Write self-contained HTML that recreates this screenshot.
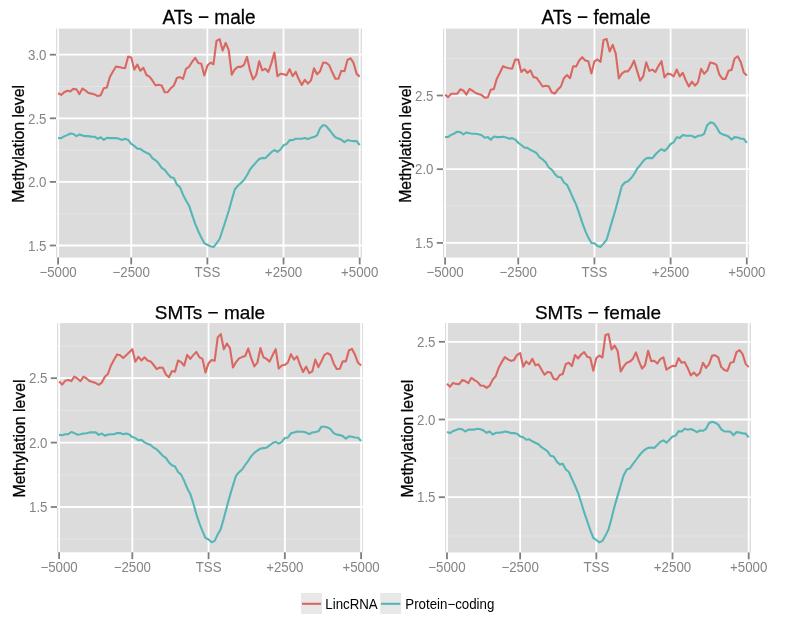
<!DOCTYPE html>
<html><head><meta charset="utf-8"><style>
html,body{margin:0;padding:0;background:#fff;}
body{width:790px;height:630px;overflow:hidden;}
svg{display:block;will-change:transform;}
text{font-family:"Liberation Sans",sans-serif;}
.ax{font-size:13.3px;fill:#848484;}
.ti{font-size:19px;fill:#000;stroke:#000;stroke-width:0.25px;}
.yl{font-size:16.2px;fill:#000;stroke:#000;stroke-width:0.3px;}
.lg{font-size:13.3px;fill:#000;}
</style></head><body>
<svg width="790" height="630" viewBox="0 0 790 630">
<rect width="790" height="630" fill="#fff"/>
<rect x="56" y="28.6" width="306" height="229" fill="#DCDCDC"/>
<line x1="56" x2="362" y1="86.5" y2="86.5" stroke="#E5E5E5" stroke-width="0.9"/>
<line x1="56" x2="362" y1="150.1" y2="150.1" stroke="#E5E5E5" stroke-width="0.9"/>
<line x1="56" x2="362" y1="213.7" y2="213.7" stroke="#E5E5E5" stroke-width="0.9"/>
<line x1="56" x2="362" y1="54.7" y2="54.7" stroke="#FFFFFF" stroke-width="1.8"/>
<line x1="56" x2="362" y1="118.3" y2="118.3" stroke="#FFFFFF" stroke-width="1.8"/>
<line x1="56" x2="362" y1="181.9" y2="181.9" stroke="#FFFFFF" stroke-width="1.8"/>
<line x1="56" x2="362" y1="245.5" y2="245.5" stroke="#FFFFFF" stroke-width="1.8"/>
<line x1="58.1" x2="58.1" y1="28.6" y2="257.6" stroke="#FFFFFF" stroke-width="1.8"/>
<line x1="131.22" x2="131.22" y1="28.6" y2="257.6" stroke="#FFFFFF" stroke-width="1.8"/>
<line x1="207.38" x2="207.38" y1="28.6" y2="257.6" stroke="#FFFFFF" stroke-width="1.8"/>
<line x1="283.54" x2="283.54" y1="28.6" y2="257.6" stroke="#FFFFFF" stroke-width="1.8"/>
<line x1="359.7" x2="359.7" y1="28.6" y2="257.6" stroke="#FFFFFF" stroke-width="1.8"/>
<svg x="56" y="28.6" width="306" height="229" viewBox="56 28.6 306 229" overflow="hidden">
<polyline points="58.1,93.3 61.15,94.9 64.19,92.3 67.24,90.8 70.29,91.4 73.33,88.9 76.38,89.2 79.43,94.1 82.47,88.5 85.52,90.6 88.56,93 91.61,93.6 94.66,94.4 97.7,96.1 100.75,95.2 103.8,88.2 106.84,87.5 109.89,76.9 112.94,71.5 115.98,66.5 119.03,67.1 122.08,67.8 125.12,68.1 128.17,56.6 131.22,57.5 134.26,69.6 137.31,64.5 140.35,70.7 143.4,67.8 146.45,75 149.49,76.7 152.54,80.7 155.59,85.5 158.63,84.7 161.68,85.5 164.73,92.2 167.77,92.2 170.82,88.2 173.87,85.5 176.91,78 179.96,77.1 183.01,78.8 186.05,68.8 189.1,66.7 192.14,61.8 195.19,57.8 198.24,63.1 201.28,63.8 204.33,75.5 207.38,65.8 210.42,62.6 213.47,64.2 216.52,40.8 219.56,39.1 222.61,50.5 225.66,42.9 228.7,49.9 231.75,74.7 234.79,69.3 237.84,66.9 240.89,66.9 243.93,65 246.98,56.9 250.03,70.4 253.07,79.3 256.12,75.2 259.17,61.2 262.21,70.4 265.26,68.8 268.31,72 271.35,63.4 274.4,52.6 277.45,76.3 280.49,73.7 283.54,74.3 286.58,75.2 289.63,69.1 292.68,76.1 295.72,71.8 298.77,79.3 301.82,85 304.86,79.8 307.91,83.6 310.96,80.4 314,68.2 317.05,74.2 320.1,71.2 323.14,62.6 326.19,62.8 329.24,65.3 332.28,72.3 335.33,78.8 338.37,78.8 341.42,70.7 344.47,71.2 347.51,59.9 350.56,58.3 353.61,63.1 356.65,73.9 359.7,76.6" fill="none" stroke="#DA6862" stroke-width="2.1" stroke-linejoin="round" stroke-linecap="butt"/>
<polyline points="58.1,138.1 61.15,138.1 64.19,136.4 67.24,135.1 70.29,133.5 73.33,134 76.38,136.1 79.43,134.5 82.47,135.6 85.52,136.1 88.56,136.1 91.61,136.7 94.66,136.7 97.7,138.8 100.75,137.2 103.8,139.9 106.84,137.8 109.89,138.1 112.94,138.1 115.98,138.1 119.03,138.8 122.08,139.9 125.12,138.8 128.17,139.9 131.22,143.9 134.26,145.9 137.31,148.6 140.35,148.9 143.4,151.1 146.45,152.7 149.49,154.2 152.54,158.4 155.59,160.3 158.63,163.3 161.68,167.8 164.73,169.9 167.77,173.9 170.82,177.3 173.87,178 176.91,184.6 179.96,187.1 183.01,194.7 186.05,200.5 189.1,205.7 192.14,214.8 195.19,223.8 198.24,231 201.28,237.6 204.33,243.3 207.38,244.8 210.42,246.2 213.47,247.1 216.52,243.3 219.56,239 222.61,230 225.66,220.5 228.7,211 231.75,200 234.79,189.5 237.84,185.7 240.89,182.9 243.93,180 246.98,175.2 250.03,169.5 253.07,165.7 256.12,162.4 259.17,159 262.21,157.9 265.26,158.3 268.31,155.2 271.35,152.2 274.4,150 277.45,151.9 280.49,149.5 283.54,145.3 286.58,144.1 289.63,140.1 292.68,140.1 295.72,138.8 298.77,138.8 301.82,138.8 304.86,138.1 307.91,139.1 310.96,137.8 314,137.1 317.05,135.3 320.1,128.2 323.14,125.1 326.19,126.1 329.24,129.7 332.28,133.7 335.33,137.3 338.37,138.5 341.42,139.8 344.47,142.1 347.51,140.1 350.56,140.8 353.61,141.1 356.65,141.1 359.7,145.2" fill="none" stroke="#56B6B6" stroke-width="2.1" stroke-linejoin="round" stroke-linecap="butt"/>
</svg>
<line x1="49.8" x2="56" y1="54.7" y2="54.7" stroke="#7F7F7F" stroke-width="1.8"/>
<text transform="translate(46.5,59.9) scale(1,1.05)" text-anchor="end" class="ax">3.0</text>
<line x1="49.8" x2="56" y1="118.3" y2="118.3" stroke="#7F7F7F" stroke-width="1.8"/>
<text transform="translate(46.5,123.5) scale(1,1.05)" text-anchor="end" class="ax">2.5</text>
<line x1="49.8" x2="56" y1="181.9" y2="181.9" stroke="#7F7F7F" stroke-width="1.8"/>
<text transform="translate(46.5,187.1) scale(1,1.05)" text-anchor="end" class="ax">2.0</text>
<line x1="49.8" x2="56" y1="245.5" y2="245.5" stroke="#7F7F7F" stroke-width="1.8"/>
<text transform="translate(46.5,250.7) scale(1,1.05)" text-anchor="end" class="ax">1.5</text>
<line x1="58.1" x2="58.1" y1="257.6" y2="264.4" stroke="#7F7F7F" stroke-width="1.8"/>
<text transform="translate(58.1,276.9) scale(1,1.05)" text-anchor="middle" class="ax">−5000</text>
<line x1="131.22" x2="131.22" y1="257.6" y2="264.4" stroke="#7F7F7F" stroke-width="1.8"/>
<text transform="translate(131.22,276.9) scale(1,1.05)" text-anchor="middle" class="ax">−2500</text>
<line x1="207.38" x2="207.38" y1="257.6" y2="264.4" stroke="#7F7F7F" stroke-width="1.8"/>
<text transform="translate(207.38,276.9) scale(1,1.05)" text-anchor="middle" class="ax">TSS</text>
<line x1="283.54" x2="283.54" y1="257.6" y2="264.4" stroke="#7F7F7F" stroke-width="1.8"/>
<text transform="translate(283.54,276.9) scale(1,1.05)" text-anchor="middle" class="ax">+2500</text>
<line x1="359.7" x2="359.7" y1="257.6" y2="264.4" stroke="#7F7F7F" stroke-width="1.8"/>
<text transform="translate(359.7,276.9) scale(1,1.05)" text-anchor="middle" class="ax">+5000</text>
<text transform="translate(209,24) scale(1,1.08)" text-anchor="middle" class="ti">ATs − male</text>
<text transform="translate(24,143.9) rotate(-90) scale(0.978,1)" text-anchor="middle" class="yl">Methylation level</text>
<rect x="443" y="28.6" width="306" height="229" fill="#DCDCDC"/>
<line x1="443" x2="749" y1="58.65" y2="58.65" stroke="#E5E5E5" stroke-width="0.9"/>
<line x1="443" x2="749" y1="132.35" y2="132.35" stroke="#E5E5E5" stroke-width="0.9"/>
<line x1="443" x2="749" y1="206.05" y2="206.05" stroke="#E5E5E5" stroke-width="0.9"/>
<line x1="443" x2="749" y1="95.5" y2="95.5" stroke="#FFFFFF" stroke-width="1.8"/>
<line x1="443" x2="749" y1="169.2" y2="169.2" stroke="#FFFFFF" stroke-width="1.8"/>
<line x1="443" x2="749" y1="242.9" y2="242.9" stroke="#FFFFFF" stroke-width="1.8"/>
<line x1="445.1" x2="445.1" y1="28.6" y2="257.6" stroke="#FFFFFF" stroke-width="1.8"/>
<line x1="518.24" x2="518.24" y1="28.6" y2="257.6" stroke="#FFFFFF" stroke-width="1.8"/>
<line x1="594.43" x2="594.43" y1="28.6" y2="257.6" stroke="#FFFFFF" stroke-width="1.8"/>
<line x1="670.61" x2="670.61" y1="28.6" y2="257.6" stroke="#FFFFFF" stroke-width="1.8"/>
<line x1="746.8" x2="746.8" y1="28.6" y2="257.6" stroke="#FFFFFF" stroke-width="1.8"/>
<svg x="443" y="28.6" width="306" height="229" viewBox="443 28.6 306 229" overflow="hidden">
<polyline points="445.1,94.6 448.15,97.1 451.19,93.7 454.24,93.7 457.29,93.7 460.34,89.3 463.38,90.5 466.43,94.6 469.48,89 472.53,90.7 475.57,93 478.62,94.1 481.67,95.1 484.72,97.6 487.76,97.4 490.81,89.7 493.86,89 496.91,78.4 499.95,72.8 503,66.2 506.05,67.4 509.1,68.2 512.14,68.7 515.19,59.6 518.24,59.6 521.29,72 524.33,69.3 527.38,72.8 530.43,70.4 533.48,77.1 536.52,77.7 539.57,82 542.62,86.5 545.67,85.7 548.71,86.3 551.76,92.5 554.81,93.6 557.86,89.5 560.9,86.5 563.95,78.2 567,75 570.05,78.2 573.09,66.4 576.14,66.4 579.19,60.5 582.24,57.2 585.28,60.5 588.33,61.3 591.38,73.4 594.43,61.3 597.47,59.5 600.52,61.8 603.57,39.9 606.62,39.1 609.66,51.5 612.71,44.9 615.76,53.7 618.81,78.4 621.85,73.6 624.9,71.4 627.95,71.4 631,67.1 634.04,60.7 637.09,70.9 640.14,80.6 643.19,76.3 646.23,62.3 649.28,70.9 652.33,69.6 655.38,72 658.42,66.1 661.47,61.2 664.52,77.4 667.57,73.6 670.61,74.2 673.66,76.4 676.71,69.5 679.76,76.4 682.8,72.8 685.85,80.5 688.9,86.4 691.95,81.6 694.99,85.7 698.04,82.1 701.09,68.9 704.14,73.8 707.18,70.8 710.23,62.4 713.28,63.3 716.33,64.6 719.37,74.6 722.42,78.9 725.47,78.9 728.52,70.8 731.56,70 734.61,58.5 737.66,56.3 740.71,62 743.75,72.4 746.8,75.4" fill="none" stroke="#DA6862" stroke-width="2.1" stroke-linejoin="round" stroke-linecap="butt"/>
<polyline points="445.1,137.1 448.15,136.9 451.19,134.9 454.24,133.5 457.29,131.7 460.34,132.2 463.38,134.4 466.43,132.4 469.48,133.3 472.53,133.8 475.57,133.8 478.62,134.2 481.67,135.2 484.72,137.8 487.76,137.1 490.81,139.8 493.86,136.5 496.91,137.1 499.95,137.1 503,136.7 506.05,137.4 509.1,138.7 512.14,138.1 515.19,139.5 518.24,142.8 521.29,145 524.33,147.5 527.38,147.9 530.43,149.9 533.48,151.3 536.52,153 539.57,157.4 542.62,159.4 545.67,162.3 548.71,167.5 551.76,169.6 554.81,173.9 557.86,177 560.9,177.3 563.95,182.5 567,184.8 570.05,191.2 573.09,198.3 576.14,204.6 579.19,213.4 582.24,222.7 585.28,230.9 588.33,237.6 591.38,243 594.43,243.3 597.47,245.9 600.52,246.9 603.57,243.6 606.62,239.7 609.66,229.4 612.71,219.1 615.76,208.7 618.81,197.5 621.85,186 624.9,182.5 627.95,181.3 631,178.3 634.04,174.2 637.09,168.8 640.14,165.2 643.19,161.1 646.23,158.3 649.28,157.9 652.33,158.3 655.38,154.5 658.42,151.5 661.47,149.2 664.52,151 667.57,148 670.61,144 673.66,142.3 676.71,137.3 679.76,137.9 682.8,135 685.85,135.8 688.9,135.8 691.95,135.8 694.99,137.5 698.04,135.8 701.09,135.5 704.14,133.8 707.18,125.2 710.23,122.4 713.28,123 716.33,126.7 719.37,132.3 722.42,134.3 725.47,135.3 728.52,136.5 731.56,139.6 734.61,137.1 737.66,137.5 740.71,138.6 743.75,138.9 746.8,142.9" fill="none" stroke="#56B6B6" stroke-width="2.1" stroke-linejoin="round" stroke-linecap="butt"/>
</svg>
<line x1="436.8" x2="443" y1="95.5" y2="95.5" stroke="#7F7F7F" stroke-width="1.8"/>
<text transform="translate(433.5,100.7) scale(1,1.05)" text-anchor="end" class="ax">2.5</text>
<line x1="436.8" x2="443" y1="169.2" y2="169.2" stroke="#7F7F7F" stroke-width="1.8"/>
<text transform="translate(433.5,174.4) scale(1,1.05)" text-anchor="end" class="ax">2.0</text>
<line x1="436.8" x2="443" y1="242.9" y2="242.9" stroke="#7F7F7F" stroke-width="1.8"/>
<text transform="translate(433.5,248.1) scale(1,1.05)" text-anchor="end" class="ax">1.5</text>
<line x1="445.1" x2="445.1" y1="257.6" y2="264.4" stroke="#7F7F7F" stroke-width="1.8"/>
<text transform="translate(445.1,276.9) scale(1,1.05)" text-anchor="middle" class="ax">−5000</text>
<line x1="518.24" x2="518.24" y1="257.6" y2="264.4" stroke="#7F7F7F" stroke-width="1.8"/>
<text transform="translate(518.24,276.9) scale(1,1.05)" text-anchor="middle" class="ax">−2500</text>
<line x1="594.43" x2="594.43" y1="257.6" y2="264.4" stroke="#7F7F7F" stroke-width="1.8"/>
<text transform="translate(594.43,276.9) scale(1,1.05)" text-anchor="middle" class="ax">TSS</text>
<line x1="670.61" x2="670.61" y1="257.6" y2="264.4" stroke="#7F7F7F" stroke-width="1.8"/>
<text transform="translate(670.61,276.9) scale(1,1.05)" text-anchor="middle" class="ax">+2500</text>
<line x1="746.8" x2="746.8" y1="257.6" y2="264.4" stroke="#7F7F7F" stroke-width="1.8"/>
<text transform="translate(746.8,276.9) scale(1,1.05)" text-anchor="middle" class="ax">+5000</text>
<text transform="translate(596,24) scale(1,1.08)" text-anchor="middle" class="ti">ATs − female</text>
<text transform="translate(411,143.9) rotate(-90) scale(0.978,1)" text-anchor="middle" class="yl">Methylation level</text>
<rect x="57" y="323.1" width="306" height="229.2" fill="#DCDCDC"/>
<line x1="57" x2="363" y1="346" y2="346" stroke="#E5E5E5" stroke-width="0.9"/>
<line x1="57" x2="363" y1="410.4" y2="410.4" stroke="#E5E5E5" stroke-width="0.9"/>
<line x1="57" x2="363" y1="474.8" y2="474.8" stroke="#E5E5E5" stroke-width="0.9"/>
<line x1="57" x2="363" y1="539.2" y2="539.2" stroke="#E5E5E5" stroke-width="0.9"/>
<line x1="57" x2="363" y1="378.2" y2="378.2" stroke="#FFFFFF" stroke-width="1.8"/>
<line x1="57" x2="363" y1="442.6" y2="442.6" stroke="#FFFFFF" stroke-width="1.8"/>
<line x1="57" x2="363" y1="507" y2="507" stroke="#FFFFFF" stroke-width="1.8"/>
<line x1="59.1" x2="59.1" y1="323.1" y2="552.3" stroke="#FFFFFF" stroke-width="1.8"/>
<line x1="132.31" x2="132.31" y1="323.1" y2="552.3" stroke="#FFFFFF" stroke-width="1.8"/>
<line x1="208.57" x2="208.57" y1="323.1" y2="552.3" stroke="#FFFFFF" stroke-width="1.8"/>
<line x1="284.84" x2="284.84" y1="323.1" y2="552.3" stroke="#FFFFFF" stroke-width="1.8"/>
<line x1="361.1" x2="361.1" y1="323.1" y2="552.3" stroke="#FFFFFF" stroke-width="1.8"/>
<svg x="57" y="323.1" width="306" height="229.2" viewBox="57 323.1 306 229.2" overflow="hidden">
<polyline points="59.1,381.6 62.15,384.6 65.2,380.8 68.25,380.1 71.3,381.1 74.35,376.7 77.4,378.5 80.45,381.1 83.5,376.7 86.55,378.5 89.61,381.1 92.66,382.1 95.71,383.1 98.76,384.8 101.81,382.6 104.86,376.7 107.91,374 110.96,365.4 114.01,359.8 117.06,354.4 120.11,355.3 123.16,358.1 126.21,355.3 129.26,352.3 132.31,349.2 135.36,361.7 138.41,356.8 141.46,360.5 144.51,357.3 147.56,360.5 150.62,361.4 153.67,365 156.72,369.1 159.77,367.5 162.82,367.8 165.87,374.5 168.92,377.2 171.97,371.1 175.02,371.8 178.07,360.5 181.12,362.1 184.17,365.7 187.22,354.9 190.27,358.9 193.32,355.1 196.37,351.9 199.42,357.3 202.47,358.9 205.52,372.4 208.57,363.2 211.63,360 214.68,360.7 217.73,337.4 220.78,334.1 223.83,349.2 226.88,343.5 229.93,348.1 232.98,367.5 236.03,362.1 239.08,358.4 242.13,357.1 245.18,356 248.23,348.5 251.28,358.4 254.33,366.4 257.38,362.7 260.43,348.1 263.48,357.3 266.53,358.9 269.58,361.6 272.64,355.1 275.69,349.2 278.74,368.6 281.79,365.6 284.84,364.8 287.89,362.5 290.94,354.2 293.99,359.6 297.04,356.4 300.09,365 303.14,372 306.19,366.6 309.24,373.1 312.29,371.4 315.34,359.6 318.39,367.1 321.44,361.2 324.49,354.8 327.54,353.1 330.59,355 333.65,363.4 336.7,369 339.75,368.8 342.8,361.2 345.85,361.4 348.9,350.5 351.95,348.8 355,354.8 358.05,362.8 361.1,365.5" fill="none" stroke="#DA6862" stroke-width="2.1" stroke-linejoin="round" stroke-linecap="butt"/>
<polyline points="59.1,434.9 62.15,435.2 65.2,434.2 68.25,434.2 71.3,432 74.35,433.1 77.4,434.6 80.45,434.2 83.5,433.5 86.55,433.3 89.61,432.4 92.66,432.4 95.71,432.4 98.76,434.9 101.81,433.5 104.86,435.7 107.91,434.6 110.96,434.2 114.01,434.2 117.06,433.1 120.11,433.1 123.16,434.2 126.21,433.5 129.26,434.4 132.31,437.1 135.36,438 138.41,440.3 141.46,439.9 144.51,442.4 147.56,443.7 150.62,445 153.67,447.7 156.72,449.4 159.77,452.5 162.82,455.8 165.87,457.8 168.92,462.4 171.97,465.2 175.02,466.5 178.07,472 181.12,474.6 184.17,480.9 187.22,488.3 190.27,493.9 193.32,503.3 196.37,514.4 199.42,523.3 202.47,531.1 205.52,538 208.57,539.4 211.63,542.2 214.68,540.9 217.73,534.4 220.78,528.9 223.83,518.3 226.88,506.7 229.93,495.6 232.98,485.4 236.03,475.7 239.08,472.1 242.13,469.5 245.18,465 248.23,460.8 251.28,456.1 254.33,452.9 257.38,450.5 260.43,448.6 263.48,448.1 266.53,447.7 269.58,445.4 272.64,443 275.69,441.8 278.74,443.6 281.79,441.8 284.84,438 287.89,437.5 290.94,433.3 293.99,432.5 297.04,431.6 300.09,431.8 303.14,431.8 306.19,432.5 309.24,434.1 312.29,432.5 315.34,432.1 318.39,431.3 321.44,426.7 324.49,426.7 327.54,427.4 330.59,429.2 333.65,433.1 336.7,434.5 339.75,435.1 342.8,436.1 345.85,438.6 348.9,436.3 351.95,436.8 355,437.5 358.05,437.8 361.1,440.9" fill="none" stroke="#56B6B6" stroke-width="2.1" stroke-linejoin="round" stroke-linecap="butt"/>
</svg>
<line x1="50.8" x2="57" y1="378.2" y2="378.2" stroke="#7F7F7F" stroke-width="1.8"/>
<text transform="translate(47.5,383.4) scale(1,1.05)" text-anchor="end" class="ax">2.5</text>
<line x1="50.8" x2="57" y1="442.6" y2="442.6" stroke="#7F7F7F" stroke-width="1.8"/>
<text transform="translate(47.5,447.8) scale(1,1.05)" text-anchor="end" class="ax">2.0</text>
<line x1="50.8" x2="57" y1="507" y2="507" stroke="#7F7F7F" stroke-width="1.8"/>
<text transform="translate(47.5,512.2) scale(1,1.05)" text-anchor="end" class="ax">1.5</text>
<line x1="59.1" x2="59.1" y1="552.3" y2="559.1" stroke="#7F7F7F" stroke-width="1.8"/>
<text transform="translate(59.1,571.6) scale(1,1.05)" text-anchor="middle" class="ax">−5000</text>
<line x1="132.31" x2="132.31" y1="552.3" y2="559.1" stroke="#7F7F7F" stroke-width="1.8"/>
<text transform="translate(132.31,571.6) scale(1,1.05)" text-anchor="middle" class="ax">−2500</text>
<line x1="208.57" x2="208.57" y1="552.3" y2="559.1" stroke="#7F7F7F" stroke-width="1.8"/>
<text transform="translate(208.57,571.6) scale(1,1.05)" text-anchor="middle" class="ax">TSS</text>
<line x1="284.84" x2="284.84" y1="552.3" y2="559.1" stroke="#7F7F7F" stroke-width="1.8"/>
<text transform="translate(284.84,571.6) scale(1,1.05)" text-anchor="middle" class="ax">+2500</text>
<line x1="361.1" x2="361.1" y1="552.3" y2="559.1" stroke="#7F7F7F" stroke-width="1.8"/>
<text transform="translate(361.1,571.6) scale(1,1.05)" text-anchor="middle" class="ax">+5000</text>
<text transform="translate(210,318.5) scale(1,1.0)" text-anchor="middle" class="ti">SMTs − male</text>
<text transform="translate(25,438.5) rotate(-90) scale(0.978,1)" text-anchor="middle" class="yl">Methylation level</text>
<rect x="445" y="323.1" width="306" height="229.4" fill="#DCDCDC"/>
<line x1="445" x2="751" y1="380.65" y2="380.65" stroke="#E5E5E5" stroke-width="0.9"/>
<line x1="445" x2="751" y1="458.35" y2="458.35" stroke="#E5E5E5" stroke-width="0.9"/>
<line x1="445" x2="751" y1="536.05" y2="536.05" stroke="#E5E5E5" stroke-width="0.9"/>
<line x1="445" x2="751" y1="341.8" y2="341.8" stroke="#FFFFFF" stroke-width="1.8"/>
<line x1="445" x2="751" y1="419.5" y2="419.5" stroke="#FFFFFF" stroke-width="1.8"/>
<line x1="445" x2="751" y1="497.2" y2="497.2" stroke="#FFFFFF" stroke-width="1.8"/>
<line x1="447" x2="447" y1="323.1" y2="552.5" stroke="#FFFFFF" stroke-width="1.8"/>
<line x1="520.14" x2="520.14" y1="323.1" y2="552.5" stroke="#FFFFFF" stroke-width="1.8"/>
<line x1="596.33" x2="596.33" y1="323.1" y2="552.5" stroke="#FFFFFF" stroke-width="1.8"/>
<line x1="672.51" x2="672.51" y1="323.1" y2="552.5" stroke="#FFFFFF" stroke-width="1.8"/>
<line x1="748.7" x2="748.7" y1="323.1" y2="552.5" stroke="#FFFFFF" stroke-width="1.8"/>
<svg x="445" y="323.1" width="306" height="229.4" viewBox="445 323.1 306 229.4" overflow="hidden">
<polyline points="447,383.7 450.05,386.7 453.09,382.9 456.14,383.9 459.19,384.2 462.24,380.1 465.28,381.1 468.33,383.2 471.38,377.8 474.43,380.1 477.47,381.8 480.52,385.5 483.57,385.7 486.62,387.9 489.66,385.7 492.71,379.6 495.76,376.1 498.81,367.5 501.85,361.9 504.9,357.1 507.95,359.4 511,360.9 514.04,359.9 517.09,354.9 520.14,353.1 523.19,366.6 526.23,361.4 529.28,364.2 532.33,358.8 535.38,365.3 538.42,364.2 541.47,369.6 544.52,374.7 547.57,372 550.61,372.5 553.66,378.7 556.71,379.7 559.76,375 562.8,373.9 565.85,363.9 568.9,362.8 571.95,366.1 574.99,355 578.04,358.5 581.09,354.5 584.14,352.1 587.18,356.7 590.23,357.8 593.28,370.7 596.33,358 599.37,355.6 602.42,357.5 605.47,334.9 608.52,334.1 611.56,349.5 614.61,345.5 617.66,351 620.71,371.5 623.75,366.4 626.8,362.7 629.85,361.6 632.9,358.9 635.94,352.4 638.99,361.4 642.04,368.6 645.09,365 648.13,350.8 651.18,361.1 654.23,360.7 657.28,363.5 660.32,359.2 663.37,357.3 666.42,369.7 669.47,367.6 672.51,365.8 675.56,366.2 678.61,358.2 681.66,362.8 684.7,362.1 687.75,368.2 690.8,375.4 693.85,372.5 696.89,375.7 699.94,372.8 702.99,362.8 706.04,367.9 709.08,364.2 712.13,355.6 715.18,355.3 718.23,357.4 721.27,367.1 724.32,370 727.37,370.9 730.42,362.8 733.46,362.1 736.51,352.1 739.56,350.2 742.61,354.2 745.65,363.9 748.7,367.1" fill="none" stroke="#DA6862" stroke-width="2.1" stroke-linejoin="round" stroke-linecap="butt"/>
<polyline points="447,432.1 450.05,433.1 453.09,431 456.14,429.9 459.19,428.8 462.24,429.4 465.28,431.5 468.33,429.6 471.38,429.6 474.43,429.6 477.47,428.8 480.52,429.2 483.57,430.5 486.62,432.8 489.66,431.5 492.71,434.5 495.76,432.8 498.81,432.8 501.85,432.4 504.9,431.5 507.95,432.1 511,433.1 514.04,433.1 517.09,433.7 520.14,436.4 523.19,437.2 526.23,439.7 529.28,439.3 532.33,441.3 535.38,442.7 538.42,444.2 541.47,447.2 544.52,449.2 547.57,451.3 550.61,455.8 553.66,456.5 556.71,461.4 559.76,464.4 562.8,463.9 565.85,469.5 568.9,472 571.95,479 574.99,485.5 578.04,492.8 581.09,502.2 584.14,512.2 587.18,521.1 590.23,530 593.28,537.8 596.33,540 599.37,542.4 602.42,540.9 605.47,535.6 608.52,529.4 611.56,518.3 614.61,506.1 617.66,495.6 620.71,485.2 623.75,474.9 626.8,469.5 629.85,468.3 632.9,464.2 635.94,460 638.99,455.8 642.04,452.3 645.09,449.5 648.13,447.9 651.18,447.5 654.23,447.9 657.28,445.1 660.32,441.9 663.37,440.4 666.42,442.7 669.47,439.8 672.51,436.5 675.56,435.7 678.61,431.1 681.66,431.5 684.7,428.8 687.75,429.8 690.8,429.1 693.85,430.3 696.89,432.1 699.94,430.5 702.99,430.8 706.04,428.8 709.08,423 712.13,421.7 715.18,422.7 718.23,424.7 721.27,429.3 724.32,431.5 727.37,431.5 730.42,431.8 733.46,435.2 736.51,432.1 739.56,432.5 742.61,433.4 745.65,433.6 748.7,437.4" fill="none" stroke="#56B6B6" stroke-width="2.1" stroke-linejoin="round" stroke-linecap="butt"/>
</svg>
<line x1="438.8" x2="445" y1="341.8" y2="341.8" stroke="#7F7F7F" stroke-width="1.8"/>
<text transform="translate(435.5,347) scale(1,1.05)" text-anchor="end" class="ax">2.5</text>
<line x1="438.8" x2="445" y1="419.5" y2="419.5" stroke="#7F7F7F" stroke-width="1.8"/>
<text transform="translate(435.5,424.7) scale(1,1.05)" text-anchor="end" class="ax">2.0</text>
<line x1="438.8" x2="445" y1="497.2" y2="497.2" stroke="#7F7F7F" stroke-width="1.8"/>
<text transform="translate(435.5,502.4) scale(1,1.05)" text-anchor="end" class="ax">1.5</text>
<line x1="447" x2="447" y1="552.5" y2="559.3" stroke="#7F7F7F" stroke-width="1.8"/>
<text transform="translate(447,571.8) scale(1,1.05)" text-anchor="middle" class="ax">−5000</text>
<line x1="520.14" x2="520.14" y1="552.5" y2="559.3" stroke="#7F7F7F" stroke-width="1.8"/>
<text transform="translate(520.14,571.8) scale(1,1.05)" text-anchor="middle" class="ax">−2500</text>
<line x1="596.33" x2="596.33" y1="552.5" y2="559.3" stroke="#7F7F7F" stroke-width="1.8"/>
<text transform="translate(596.33,571.8) scale(1,1.05)" text-anchor="middle" class="ax">TSS</text>
<line x1="672.51" x2="672.51" y1="552.5" y2="559.3" stroke="#7F7F7F" stroke-width="1.8"/>
<text transform="translate(672.51,571.8) scale(1,1.05)" text-anchor="middle" class="ax">+2500</text>
<line x1="748.7" x2="748.7" y1="552.5" y2="559.3" stroke="#7F7F7F" stroke-width="1.8"/>
<text transform="translate(748.7,571.8) scale(1,1.05)" text-anchor="middle" class="ax">+5000</text>
<text transform="translate(598,318.5) scale(1,1.0)" text-anchor="middle" class="ti">SMTs − female</text>
<text transform="translate(413,438.6) rotate(-90) scale(0.978,1)" text-anchor="middle" class="yl">Methylation level</text>
<rect x="301" y="593" width="21" height="21" fill="#E8E8E8"/>
<line x1="302" x2="321" y1="603.8" y2="603.8" stroke="#DA6862" stroke-width="2.1"/>
<text transform="translate(325.3,608.8) scale(1,1.08)" class="lg">LincRNA</text>
<rect x="380.2" y="593" width="21" height="21" fill="#E8E8E8"/>
<line x1="381" x2="400.3" y1="603.8" y2="603.8" stroke="#56B6B6" stroke-width="2.1"/>
<text transform="translate(405.3,608.8) scale(1,1.08)" class="lg">Protein−coding</text>
</svg>
</body></html>
